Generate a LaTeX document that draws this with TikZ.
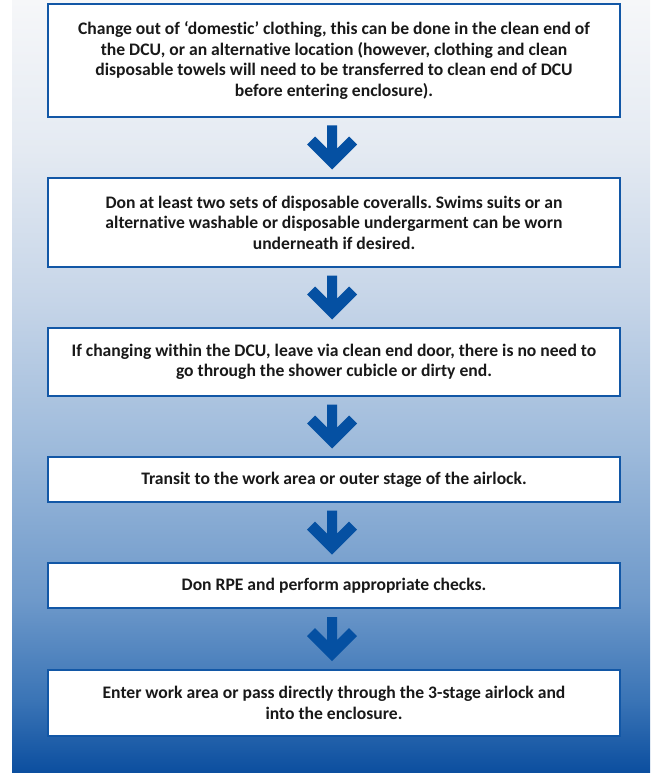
\documentclass[tikz,border=0pt]{standalone}
\usepackage{fontspec}
\setmainfont{Carlito}[Ligatures=NoCommon]
\usetikzlibrary{calc}

\definecolor{edgeblue}{HTML}{1257A6}
\definecolor{headblue}{HTML}{0550A2}
\definecolor{fadeA}{HTML}{0B4E9F}
\definecolor{fadeB}{HTML}{3A74B6}
\definecolor{fadeC}{HTML}{6E99CA}
\definecolor{fadeD}{HTML}{9DBADB}
\definecolor{fadeE}{HTML}{C6D5E8}
\definecolor{fadeF}{HTML}{E4EAF2}
\definecolor{fadeG}{HTML}{F6F7F9}

\pgfdeclareverticalshading{panelfade}{100bp}{color(0bp)=(fadeA); color(25bp)=(fadeA);
  color(29.7bp)=(fadeB); color(36.2bp)=(fadeC); color(45.9bp)=(fadeD);
  color(55.6bp)=(fadeE); color(65.3bp)=(fadeF); color(75bp)=(fadeG); color(100bp)=(fadeG)}

% block arrow half way between two steps
\newcommand{\StepArrow}[2]{%
  \fill[headblue] ($(#1.south)!0.5!(#2.north)$) ++(-2pt,-22pt) -- ++(25pt,25pt)
    -- ++(-8pt,8pt) -- ++(-12pt,-12pt) -- ++(0,23pt) -- ++(-10pt,0)
    -- ++(0,-23pt) -- ++(-12pt,12pt) -- ++(-8pt,-8pt) -- cycle;}

\begin{document}
\frenchspacing
\begin{tikzpicture}[x=1pt,y=1pt,
    stepbox/.style={draw=edgeblue, line width=2.5pt, fill=white, align=center,
      minimum width=572pt, inner sep=0pt, text=black!90,
      font=\bfseries\fontsize{17.6}{20.5}\selectfont}]
    \useasboundingbox (0,0) rectangle (650,-773);
    \shade[shading=panelfade] (12,-773) rectangle (650,0);

    \node[stepbox, minimum height=113pt] (sA) at (334,-60.5) {Change out of ‘domestic’ clothing, this can be done in the clean end of\\
      the DCU, or an alternative location (however, clothing and clean\\
      disposable towels will need to be transferred to clean end of DCU\\
      before entering enclosure).};
    \node[stepbox, minimum height=89pt] (sB) at (334,-222.5) {Don at least two sets of disposable coveralls. Swims suits or an\\
      alternative washable or disposable undergarment can be worn\\
      underneath if desired.};
    \node[stepbox, minimum height=68pt] (sC) at (334,-362) {If changing within the DCU, leave via clean end door, there is no need to\\
      go through the shower cubicle or dirty end.};
    \node[stepbox, minimum height=45pt] (sD) at (334,-479.5) {Transit to the work area or outer stage of the airlock.};
    \node[stepbox, minimum height=45pt] (sE) at (334,-585.5) {Don RPE and perform appropriate checks.};
    \node[stepbox, minimum height=66pt] (sF) at (334,-703) {Enter work area or pass directly through the 3-stage airlock and\\
      into the enclosure.};

    \StepArrow{sA}{sB}
    \StepArrow{sB}{sC}
    \StepArrow{sC}{sD}
    \StepArrow{sD}{sE}
    \StepArrow{sE}{sF}
\end{tikzpicture}
\end{document}
